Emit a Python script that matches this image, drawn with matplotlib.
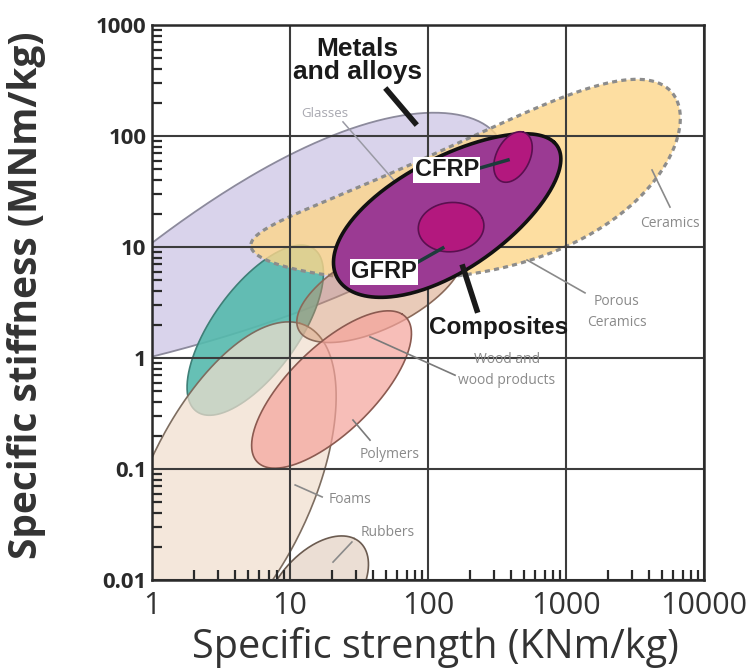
import numpy as np
import matplotlib
matplotlib.use('Agg')
import matplotlib.pyplot as plt
from matplotlib.ticker import LogLocator, NullFormatter

plt.rcParams['font.family'] = ['Open Sans', 'DejaVu Sans']

# Material families as bubbles on log-log axes:
# centre strength (KNm/kg), centre stiffness (MNm/kg),
# half length / half width in decades, tilt (deg), egg taper, banana bend
families    = ['Metals', 'Teal', 'Foams', 'Ceramics', 'Wood', 'Polymers',
               'Rubbers', 'Composites', 'CFRP', 'GFRP']
strength_c  = [6.3, 5.6, 3.55, 245, 45, 20, 15.5, 141, 413, 147]
stiffness_c = [8.9, 1.78, 0.063, 23.4, 4.2, 0.52, 0.0079, 19.9, 64.7, 15.1]
half_len    = [2.0, 0.85, 1.6, 1.68, 0.7, 0.85, 0.55, 1.0, 0.236, 0.24]
half_wid    = [0.6, 0.33, 0.62, 0.58, 0.33, 0.34, 0.3, 0.47, 0.125, 0.22]
tilt_deg    = [32, 62, 71, 24, 35, 53, 60, 40, 72, 20]
taper       = [0.4, 0, 0, 0.28, 0, 0, 0, -0.1, 0, 0]
bend        = [0, 0, 0, 0.32, 0, 0, 0, 0, 0, 0]

x_ticks = [1, 10, 100, 1000, 10000]
x_tick_labels = ['1', '10', '100', '1000', '10000']
y_ticks = [0.01, 0.1, 1, 10, 100, 1000]
y_tick_labels = ['0.01', '0.1', '1', '10', '100', '1000']

style = {
    'Metals':     dict(fc='#d9d3eb', alpha=1.0, ec='#8c8a9c', lw=1.3, ls='-', z=1.0),
    'Teal':       dict(fc='#55baad', alpha=0.9, ec='#3f7f77', lw=1.2, ls='-', z=1.05),
    'Foams':      dict(fc='#f1dece', alpha=0.72, ec='#7d6d60', lw=1.2, ls='-', z=1.1),
    'Ceramics':   dict(fc='#fdd68a', alpha=0.8, ec='#8c8c8c', lw=2.3, ls=(0, (1.6, 1.3)), z=1.15),
    'Wood':       dict(fc='#cf8c64', alpha=0.45, ec='#8a6a5a', lw=1.2, ls='-', z=1.2),
    'Polymers':   dict(fc='#f5a39b', alpha=0.7, ec='#8b5a50', lw=1.2, ls='-', z=1.25),
    'Rubbers':    dict(fc='#e6d6ca', alpha=0.8, ec='#6b5b50', lw=1.2, ls='-', z=1.3),
    'Composites': dict(fc='#9b3a93', alpha=1.0, ec='#111111', lw=2.6, ls='-', z=3.0),
    'CFRP':       dict(fc='#b3187e', alpha=1.0, ec='#5a1050', lw=1.2, ls='-', z=3.1),
    'GFRP':       dict(fc='#b3187e', alpha=1.0, ec='#5a1050', lw=1.2, ls='-', z=3.1),
}


def bubble(xc, yc, a, b, ang, k, c, n=300):
    """Closed outline of an ellipse in log-log space, optionally egg-shaped
    (taper k) and bent (c)."""
    t = np.linspace(0, 2 * np.pi, n)
    u = a * np.cos(t)
    v = b * np.sin(t) * (1 + k * np.cos(t)) + c * np.cos(t) ** 2
    th = np.radians(ang)
    lx = np.log10(xc) + u * np.cos(th) - v * np.sin(th)
    ly = np.log10(yc) + u * np.sin(th) + v * np.cos(th)
    return 10 ** lx, 10 ** ly


fig = plt.figure(figsize=(7.54, 6.72), dpi=100)
ax = fig.add_axes([152 / 754, 1 - 580 / 672, 552 / 754, 555 / 672])
ax.set_xscale('log')
ax.set_yscale('log')
ax.set_xlim(1, 10000)
ax.set_ylim(0.01, 1000)

for i, name in enumerate(families):
    s = style[name]
    xs, ys = bubble(strength_c[i], stiffness_c[i], half_len[i], half_wid[i],
                    tilt_deg[i], taper[i], bend[i])
    ax.fill(xs, ys, facecolor=s['fc'], alpha=s['alpha'], edgecolor='none',
            zorder=s['z'])
    ax.plot(xs, ys, color=s['ec'], lw=s['lw'], ls=s['ls'], zorder=s['z'] + 0.01,
            solid_capstyle='round')

# grid and frame
ax.grid(True, which='major', color='#3c3c3c', lw=1.5, zorder=2)
for sp in ax.spines.values():
    sp.set_color('#2a2a2a')
    sp.set_linewidth(1.8)

ax.set_xticks(x_ticks)
ax.set_xticklabels(x_tick_labels)
ax.set_yticks(y_ticks)
ax.set_yticklabels(y_tick_labels)
ax.xaxis.set_minor_locator(LogLocator(base=10, subs=np.arange(2, 10)))
ax.yaxis.set_minor_locator(LogLocator(base=10, subs=np.arange(2, 10)))
ax.xaxis.set_minor_formatter(NullFormatter())
ax.yaxis.set_minor_formatter(NullFormatter())
ax.tick_params(which='major', direction='in', length=0, colors='#2a2a2a')
ax.tick_params(which='minor', direction='in', length=7, width=1.6, color='#2a2a2a')
ax.tick_params(axis='x', which='major', labelsize=22, pad=8)
ax.tick_params(axis='y', which='major', labelsize=16, pad=4)
for lab in ax.get_yticklabels():
    lab.set_fontweight('bold')
for lab in ax.get_xticklabels():
    lab.set_color('#333333')

fig.text(435 / 754, 1 - 658 / 672, 'Specific strength (KNm/kg)', fontsize=28.5,
         color='#333333', ha='center', va='baseline')
fig.text(27 / 754, 1 - 295 / 672, 'Specific stiffness (MNm/kg)', fontsize=28,
         fontweight='bold', color='#333333', ha='center', va='center',
         rotation=90)

# bold annotations with thick leaders
bold = dict(family=['Liberation Sans', 'DejaVu Sans'], fontweight='bold',
            color='#1a1a1a', ha='center', va='center', zorder=6)
ax.text(31, 480, 'Metals\nand alloys', fontsize=19, linespacing=0.95, **bold)
ax.plot([50.5, 80.5], [259, 131], color='#1a1a1a', lw=4, zorder=6)
ax.text(327, 1.9, 'Composites', fontsize=17.5, **bold)
ax.plot([179, 226], [6.6, 2.7], color='#1a1a1a', lw=4, zorder=6)

box = dict(facecolor='white', edgecolor='none', pad=1.0)
ax.text(137, 49.4, 'CFRP', fontsize=17, bbox=box, **bold)
ax.plot([238, 380], [51.5, 60.8], color='#1d3b3b', lw=2.5, zorder=5)
ax.text(48, 5.96, 'GFRP', fontsize=17, bbox=box, **bold)
ax.plot([84.7, 128], [7.33, 9.8], color='#1d3b3b', lw=2.5, zorder=5)

# grey family labels
grey = dict(fontsize=10, color='#8a8a8a', ha='center', va='center', zorder=6)
ax.text(17.9, 161, 'Glasses', color='#a8a8b0', fontsize=9.5,
        ha='center', va='center', zorder=6)
ax.plot([24.2, 60.6], [134, 36.2], color='#9a9aa4', lw=1.1, zorder=2.5)
ax.text(5670, 16.4, 'Ceramics', **grey)
ax.plot([4200, 5670], [49.4, 22.9], color='#8a8a8a', lw=1.2, zorder=2.5)
ax.text(2340, 2.6, 'Porous\nCeramics', linespacing=1.5, **grey)
ax.plot([522, 1373], [7.64, 3.86], color='#8a8a8a', lw=1.2, zorder=2.5)
ax.text(374, 0.78, 'Wood and\nwood products', linespacing=1.5, **grey)
ax.plot([38, 157], [1.55, 0.70], color='#7a7a7a', lw=1.2, zorder=2.5)
ax.text(53, 0.134, 'Polymers', **grey)
ax.plot([28.6, 38], [0.276, 0.182], color='#7a7a7a', lw=1.2, zorder=2.5)
ax.text(27.2, 0.0526, 'Foams', **grey)
ax.plot([10.9, 17.1], [0.0718, 0.056], color='#8a8a8a', lw=1.2, zorder=2.5)
ax.text(51.3, 0.027, 'Rubbers', **grey)
ax.plot([28.1, 20.5], [0.022, 0.0145], color='#8a8a8a', lw=1.2, zorder=2.5)

fig.savefig('out.png', dpi=100, facecolor='white')
